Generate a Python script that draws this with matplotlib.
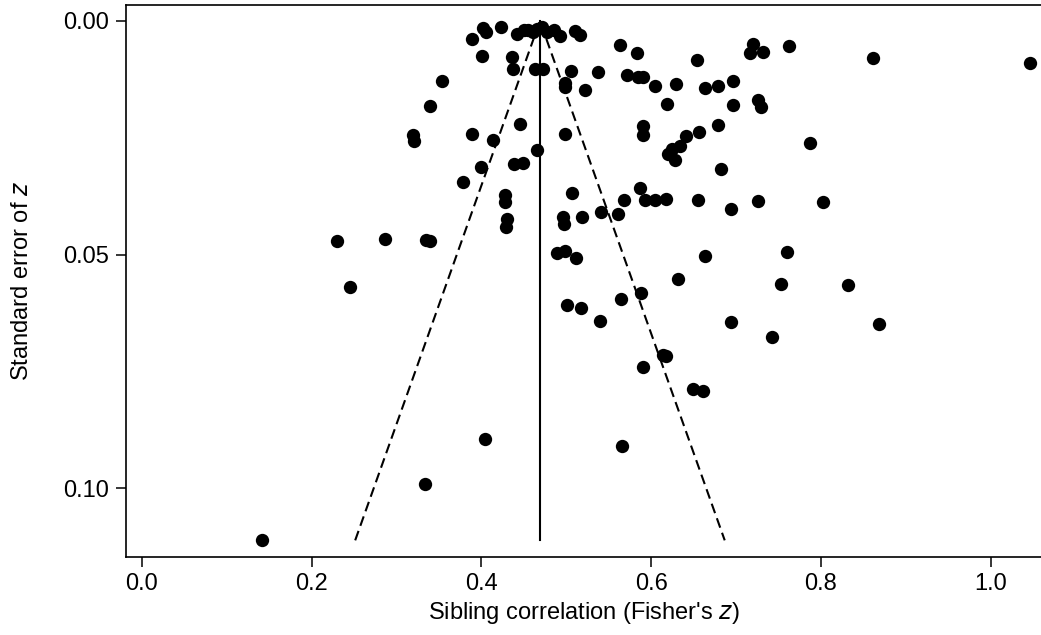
import matplotlib
matplotlib.use('Agg')
import matplotlib.pyplot as plt

plt.rcParams['font.family'] = ['Liberation Sans', 'DejaVu Sans']

## study estimates (Fisher's z) and their standard errors
z = [0.389, 0.402, 0.406, 0.423, 0.442, 0.450, 0.455, 0.461, 0.466, 0.471,
     0.477, 0.485, 0.493, 0.510, 0.516,
     0.401, 0.436, 0.437, 0.463, 0.473, 0.506, 0.498, 0.499, 0.522, 0.537,
     0.563, 0.583, 0.571, 0.585, 0.591, 0.604, 0.629, 0.619, 0.654, 0.664,
     0.679, 0.697, 0.697,
     0.720, 0.716, 0.732, 0.763, 0.861, 1.047, 0.726, 0.730, 0.787,
     0.726, 0.803, 0.760, 0.753, 0.832, 0.869, 0.743,
     0.389, 0.414, 0.445, 0.498, 0.465, 0.591, 0.591, 0.641, 0.657, 0.679,
     0.634, 0.625, 0.620, 0.628, 0.400, 0.438, 0.449, 0.682, 0.587,
     0.354, 0.340, 0.319, 0.321, 0.378,
     0.428, 0.428, 0.430, 0.429, 0.507, 0.568, 0.593, 0.604, 0.617, 0.655,
     0.694, 0.496, 0.497, 0.519, 0.541, 0.561, 0.489, 0.499, 0.511, 0.664,
     0.632, 0.588, 0.564, 0.501, 0.517, 0.540, 0.694, 0.614, 0.618, 0.591,
     0.141, 0.333, 0.404, 0.566, 0.649, 0.661,
     0.230, 0.286, 0.335, 0.339, 0.245]

se = [0.0038, 0.0016, 0.0024, 0.0014, 0.0029, 0.0020, 0.0020, 0.0023, 0.0017, 0.0014,
      0.0024, 0.0020, 0.0033, 0.0021, 0.0031,
      0.0074, 0.0077, 0.0102, 0.0103, 0.0103, 0.0107, 0.0132, 0.0142, 0.0148, 0.0110,
      0.0052, 0.0068, 0.0115, 0.0120, 0.0121, 0.0140, 0.0136, 0.0177, 0.0083, 0.0143,
      0.0140, 0.0128, 0.0180,
      0.0050, 0.0068, 0.0066, 0.0054, 0.0080, 0.0090, 0.0170, 0.0184, 0.0261,
      0.0385, 0.0387, 0.0494, 0.0563, 0.0565, 0.0649, 0.0677,
      0.0241, 0.0254, 0.0221, 0.0241, 0.0277, 0.0225, 0.0243, 0.0246, 0.0237, 0.0223,
      0.0268, 0.0273, 0.0284, 0.0298, 0.0313, 0.0307, 0.0303, 0.0317, 0.0357,
      0.0128, 0.0181, 0.0245, 0.0257, 0.0345,
      0.0373, 0.0387, 0.0423, 0.0441, 0.0369, 0.0382, 0.0383, 0.0382, 0.0381, 0.0382,
      0.0403, 0.0419, 0.0435, 0.0419, 0.0408, 0.0414, 0.0496, 0.0493, 0.0507, 0.0503,
      0.0552, 0.0581, 0.0595, 0.0607, 0.0614, 0.0642, 0.0644, 0.0715, 0.0716, 0.0741,
      0.1111, 0.0991, 0.0895, 0.0909, 0.0788, 0.0791,
      0.0470, 0.0467, 0.0469, 0.0471, 0.0569]

pooled = 0.469      # summary estimate (vertical line)
se_max = 0.1111     # bottom of the funnel

fig = plt.figure(figsize=(10.41, 6.35), dpi=100)
ax = fig.add_axes([0.121, 0.1233, 0.879, 0.8688])

## funnel: pooled estimate +/- 1.96 se
ax.plot([pooled, pooled], [0, se_max], color='black', lw=1.5)
ax.plot([pooled - 1.96 * se_max, pooled, pooled + 1.96 * se_max],
        [se_max, 0, se_max], color='black', lw=1.5,
        linestyle=(0, (4.8, 2.6)))

ax.scatter(z, se, s=92, c='black', linewidths=0, zorder=3)

ax.set_xlim(-0.0189, 1.0595)
ax.set_ylim(0.1146, -0.0034)

ax.set_xticks([0.0, 0.2, 0.4, 0.6, 0.8, 1.0])
ax.set_yticks([0.0, 0.05, 0.10])
ax.set_yticklabels(['0.00', '0.05', '0.10'])
ax.tick_params(length=7, width=1.1, labelsize=17, pad=5, direction='out')

for side in ('left', 'bottom', 'top'):
    ax.spines[side].set_linewidth(1.2)
ax.spines['right'].set_visible(False)

ax.set_xlabel("Sibling correlation (Fisher's $\\it{z}$)", fontsize=17, labelpad=3)
ax.set_ylabel("Standard error of $\\it{z}$", fontsize=17, labelpad=22)

plt.savefig('out.png', dpi=100)
